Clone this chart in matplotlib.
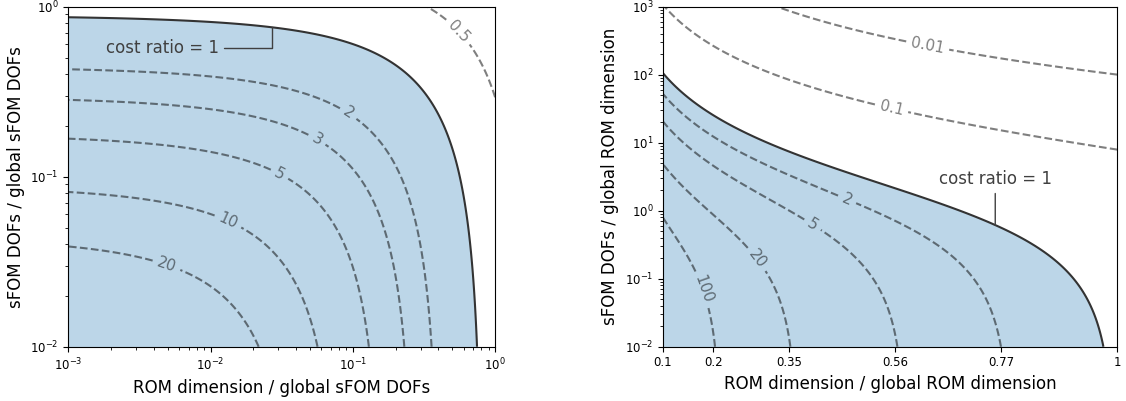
import numpy as np
import matplotlib
matplotlib.use("Agg")
import matplotlib.pyplot as plt

# ---------------- values ----------------
# Left panel: cost-ratio contours, read where they cross the plot edges
left_edge_levels = [1, 2, 3, 5, 10, 20]
left_x_at_ymin = [0.746, 0.36, 0.231, 0.129, 0.0558, 0.0215]   # crossing y = 1e-2
left_y_at_xmin = [0.866, 0.426, 0.285, 0.167, 0.081, 0.039]    # crossing x = 1e-3
left_half_x = [0.34, 1.0]                                        # level 0.5
left_half_y = [1.0, 0.30]
left_dashed_levels = [0.5, 2, 3, 5, 10, 20]
left_label_x = [0.552, 0.093, 0.0557, 0.0308, 0.0133, 0.0049]
left_label_y = [0.713, 0.236, 0.164, 0.105, 0.055, 0.0302]

# Right panel
right_edge_levels = [1, 2, 5, 20, 100]
right_x_at_ymin = [0.975, 0.77, 0.565, 0.352, 0.202]           # crossing y = 1e-2
right_y_at_xmin = [104.7, 51.4, 20.4, 4.97, 0.80]              # crossing x = 0.1
right_low_levels = [0.1, 0.01]
right_y_at_xmax = [7.8, 99.0]                                   # crossing x = 1
right_x_at_ymax = [0.103, 0.329]                                # crossing y = 1e3
right_dashed_levels = [0.01, 0.1, 2, 5, 20, 100]
right_label_x = [0.624, 0.553, 0.465, 0.397, 0.286, 0.179]
right_label_y = [263.0, 33.0, 1.49, 0.635, 0.193, 0.0695]
right_xticks = [0.1, 0.2, 0.35, 0.56, 0.77, 1.0]
right_xticklabels = ["0.1", "0.2", "0.35", "0.56", "0.77", "1"]

left_annot_x, left_text_x, left_text_y = 0.027, 0.0114, 0.569
right_annot_x, right_text_y = 0.758, 2.93

# ---------------- cost model fitted to the read crossings ----------------
def basis_left(x, y):
    x = np.asarray(x, float); y = np.asarray(y, float)
    return np.stack([x, y, np.sqrt(x * y)], axis=-1)

def basis_right(x, y):
    x = np.asarray(x, float); y = np.asarray(y, float)
    return np.stack([x ** 3, x ** 2 * y, x ** 2 * np.sqrt(x * y)], axis=-1)

def fit(basis, xs, ys, cs):
    A = basis(xs, ys) * np.asarray(cs, float)[:, None]
    coef, *_ = np.linalg.lstsq(A, np.ones(len(cs)), rcond=None)
    return coef

lx = np.r_[left_x_at_ymin, np.full(6, 1e-3), left_half_x]
ly = np.r_[np.full(6, 1e-2), left_y_at_xmin, left_half_y]
lc = np.r_[left_edge_levels, left_edge_levels, [0.5, 0.5]]
coef_l = fit(basis_left, lx, ly, lc)

rx = np.r_[right_x_at_ymin, np.full(5, 0.1), np.full(2, 1.0), right_x_at_ymax]
ry = np.r_[np.full(5, 1e-2), right_y_at_xmin, right_y_at_xmax, np.full(2, 1e3)]
rc = np.r_[right_edge_levels, right_edge_levels, right_low_levels, right_low_levels]
coef_r = fit(basis_right, rx, ry, rc)

def cost_left(x, y):
    return 1.0 / (basis_left(x, y) @ coef_l)

def cost_right(x, y):
    return 1.0 / (basis_right(x, y) @ coef_r)

def y_on_unit(cost, x0, ylo, yhi):
    ys = np.logspace(np.log10(ylo), np.log10(yhi), 20000)
    cs = cost(np.full_like(ys, x0), ys)
    return ys[np.argmin(np.abs(np.log(cs)))]

# ---------------- styling ----------------
FILL = "#bcd6e8"
SOLID = "#333333"
DASH = (0, 0, 0, 0.5)
ANN = "#404040"
LABEL_FS = 12
TICK_FS = 8.5
CL_FS = 11

fig = plt.figure(figsize=(11.26, 4.01), dpi=100)
axL = fig.add_axes([0.0607, 0.1354, 0.379, 0.8479])
axR = fig.add_axes([0.5888, 0.1354, 0.4036, 0.8479])

# ---- left panel ----
axL.set_xscale("log"); axL.set_yscale("log")
axL.set_xlim(1e-3, 1); axL.set_ylim(1e-2, 1)
xg = np.logspace(-3, 0, 500)
yg = np.logspace(-2, 0, 500)
XL, YL = np.meshgrid(xg, yg)
CL = cost_left(XL, YL)
axL.contourf(XL, YL, CL, levels=[1, 1e12], colors=[FILL])
axL.contour(XL, YL, CL, levels=[1], colors=[SOLID], linewidths=1.5)
csl = axL.contour(XL, YL, CL, levels=left_dashed_levels, colors=[DASH],
                  linewidths=1.5, linestyles="--")
axL.set_xlim(1e-3, 1); axL.set_ylim(1e-2, 1)
axL.clabel(csl, fmt="%g", fontsize=CL_FS, inline=True, colors=[DASH],
           manual=list(zip(left_label_x, left_label_y)))
axL.set_xlabel("ROM dimension / global sFOM DOFs", fontsize=LABEL_FS)
axL.set_ylabel("sFOM DOFs / global sFOM DOFs", fontsize=LABEL_FS)
ya = y_on_unit(cost_left, left_annot_x, 1e-2, 1)
axL.annotate("cost ratio = 1", xy=(left_annot_x, ya), xytext=(left_text_x, left_text_y),
             ha="right", va="center", fontsize=12, color=ANN,
             arrowprops=dict(arrowstyle="-", color=ANN, lw=1,
                             connectionstyle="angle,angleA=0,angleB=90,rad=0",
                             shrinkA=2, shrinkB=0))

# ---- right panel ----
axR.set_yscale("log")
axR.set_xlim(0.1, 1); axR.set_ylim(1e-2, 1e3)
xr = np.linspace(0.1, 1, 500)
yr = np.logspace(-2, 3, 600)
XR, YR = np.meshgrid(xr, yr)
CR = cost_right(XR, YR)
axR.contourf(XR, YR, CR, levels=[1, 1e12], colors=[FILL])
axR.contour(XR, YR, CR, levels=[1], colors=[SOLID], linewidths=1.5)
csr = axR.contour(XR, YR, CR, levels=right_dashed_levels, colors=[DASH],
                  linewidths=1.5, linestyles="--")
axR.set_xlim(0.1, 1); axR.set_ylim(1e-2, 1e3)
axR.clabel(csr, fmt="%g", fontsize=CL_FS, inline=True, colors=[DASH],
           manual=list(zip(right_label_x, right_label_y)))
axR.set_xticks(right_xticks)
axR.set_xticklabels(right_xticklabels)
axR.set_xlabel("ROM dimension / global ROM dimension", fontsize=LABEL_FS)
axR.set_ylabel("sFOM DOFs / global ROM dimension", fontsize=LABEL_FS)
yb = y_on_unit(cost_right, right_annot_x, 1e-2, 1e3)
axR.annotate("cost ratio = 1", xy=(right_annot_x, yb), xytext=(right_annot_x, right_text_y),
             ha="center", va="center", fontsize=12, color=ANN,
             arrowprops=dict(arrowstyle="-", color=ANN, lw=1, shrinkA=2, shrinkB=0))

for ax in (axL, axR):
    ax.tick_params(labelsize=TICK_FS)

fig.savefig("out.png", dpi=100)
